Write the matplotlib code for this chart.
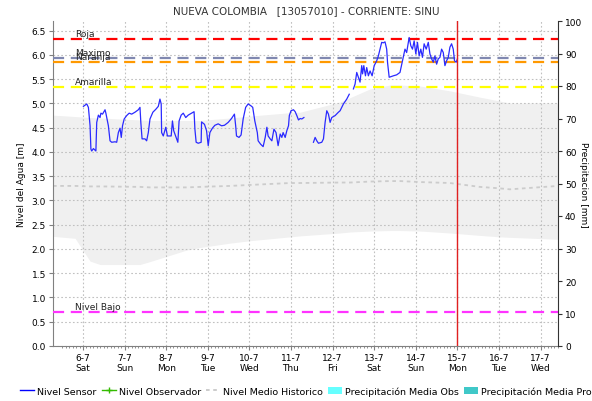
import numpy as np
import matplotlib
matplotlib.use("Agg")
import matplotlib.pyplot as plt
from matplotlib.lines import Line2D
from matplotlib.patches import Patch

# Datos: dias de julio (fraccion de dia) y nivel [m]
sensor_dia = [6.01, 6.09, 6.13, 6.17, 6.19, 6.21, 6.25, 6.31, 6.33, 6.37, 6.41, 6.43, 6.47, 6.53, 6.55,
              6.61, 6.65, 6.69, 6.77, 6.81, 6.85, 6.89, 6.92, 6.95, 6.99, 7.05, 7.11, 7.17, 7.25, 7.33,
              7.37, 7.39, 7.42, 7.49, 7.53, 7.57, 7.61, 7.68, 7.75, 7.81, 7.85, 7.88, 7.89, 7.93, 7.99,
              8.03, 8.12, 8.15, 8.18, 8.28, 8.31, 8.36, 8.41, 8.47, 8.53, 8.61, 8.67, 8.69, 8.72, 8.77,
              8.84, 8.85, 8.92, 8.97, 9.01, 9.05, 9.11, 9.17, 9.25, 9.33, 9.40, 9.49, 9.57, 9.64, 9.67,
              9.69, 9.75, 9.80, 9.85, 9.91, 9.97, 10.04, 10.08, 10.13, 10.19, 10.21, 10.27, 10.33, 10.38,
              10.42, 10.45, 10.50, 10.54, 10.59, 10.64, 10.69, 10.74, 10.78, 10.81, 10.86, 10.90, 10.94,
              10.96, 11.00, 11.06, 11.10, 11.14, 11.18, 11.22, 11.26, 11.31, 11.42,
              11.54, 11.58, 11.62, 11.66, 11.74, 11.78, 11.82, 11.86, 11.90, 11.94, 11.98, 12.06, 12.14,
              12.18, 12.26, 12.34, 12.40, 12.45,
              12.50, 12.54, 12.58, 12.62, 12.66, 12.70, 12.72, 12.75, 12.79, 12.82, 12.86, 12.90, 12.95,
              13.00, 13.06, 13.10, 13.14, 13.18, 13.22, 13.26, 13.30, 13.32, 13.36, 13.46, 13.54, 13.62,
              13.74, 13.78, 13.84, 13.88, 13.92, 13.96, 14.00, 14.04, 14.08, 14.12, 14.16, 14.20, 14.25,
              14.30, 14.34, 14.38, 14.42, 14.46, 14.50, 14.54, 14.58, 14.62, 14.66, 14.70, 14.74, 14.78,
              14.82, 14.86, 14.90, 14.93, 14.97, 15.00]
sensor_nivel = [4.94, 4.99, 4.92, 4.54, 4.06, 4.02, 4.07, 4.02, 4.61, 4.76, 4.71, 4.80, 4.78, 4.87, 4.80,
                4.54, 4.23, 4.20, 4.21, 4.20, 4.40, 4.49, 4.30, 4.54, 4.68, 4.75, 4.80, 4.78, 4.82, 4.87,
                4.92, 4.61, 4.27, 4.27, 4.23, 4.40, 4.68, 4.82, 4.88, 4.94, 5.09, 4.99, 4.40, 4.33, 4.51,
                4.33, 4.33, 4.64, 4.44, 4.20, 4.64, 4.76, 4.80, 4.71, 4.76, 4.80, 4.83, 4.47, 4.20, 4.18,
                4.20, 4.62, 4.57, 4.44, 4.13, 4.40, 4.49, 4.55, 4.58, 4.54, 4.55, 4.61, 4.69, 4.78, 4.54,
                4.33, 4.30, 4.35, 4.68, 4.92, 4.99, 4.95, 4.92, 4.64, 4.40, 4.23, 4.16, 4.11, 4.30,
                4.51, 4.33, 4.27, 4.23, 4.47, 4.40, 4.13, 4.37, 4.30, 4.40, 4.30, 4.44, 4.54,
                4.75, 4.85, 4.87, 4.83, 4.75, 4.66, 4.69, 4.68, 4.71, np.nan,
                4.20, 4.30, 4.23, 4.18, 4.20, 4.27, 4.61, 4.85, 4.78, 4.61, 4.71, 4.75, 4.82,
                4.85, 4.99, 5.09, 5.19, np.nan,
                5.30, 5.40, 5.64, 5.54, 5.44, 5.78, 5.61, 5.78, 5.57, 5.74, 5.57, 5.67, 5.57,
                5.78, 5.88, 5.98, 6.12, 6.26, 6.25, 6.27, 6.12, 5.85, 5.54, 5.57, 5.59, 5.64,
                6.12, 6.05, 6.36, 6.19, 6.12, 6.29, 6.02, 6.26, 5.98, 6.12, 5.95, 6.23, 6.12,
                6.26, 6.02, 5.92, 5.85, 5.98, 5.81, 5.92, 5.95, 6.12, 6.05, 5.78, 5.88, 5.95,
                6.16, 6.23, 6.12, 5.88, 5.85, 5.92]

# Banda historica (min-max) y nivel medio historico
hist_dia = [5.28, 5.81, 6.17, 6.41, 7.37, 7.61, 8.50, 8.81, 9.53, 10.01, 10.98, 11.22, 12.18, 12.42,
            12.90, 13.38, 13.62, 14.10, 14.82, 15.54, 16.02, 16.26, 17.42]
hist_max = [4.76, 4.73, 4.71, 4.70, 4.66, 4.65, 4.65, 4.65, 4.70, 4.74, 4.81, 4.82, 5.03, 5.12,
            5.30, 5.38, 5.38, 5.36, 5.26, 5.13, 5.05, 5.01, 5.01]
hist_min = [2.26, 2.22, 1.75, 1.68, 1.68, 1.74, 1.98, 2.03, 2.12, 2.17, 2.25, 2.27, 2.33, 2.35,
            2.37, 2.38, 2.38, 2.37, 2.33, 2.28, 2.25, 2.24, 2.20]
hist_medio = [3.30, 3.30, 3.29, 3.29, 3.28, 3.27, 3.27, 3.28, 3.30, 3.32, 3.36, 3.36, 3.37, 3.37,
              3.39, 3.40, 3.40, 3.38, 3.36, 3.28, 3.25, 3.23, 3.30]

# Umbrales
umbral_nombres = ["Roja", "Maximo", "Naranja", "Amarilla", "Nivel Bajo"]
umbral_valores = [6.33, 5.94, 5.85, 5.34, 0.71]
umbral_colores = ["#ff0000", "#8088b0", "#ff9900", "#ffff00", "#ff33ff"]

dias = list(range(6, 18))
dias_sem = ["Sat", "Sun", "Mon", "Tue", "Wed", "Thu", "Fri", "Sat", "Sun", "Mon", "Tue", "Wed"]
ahora = 15.0

fig = plt.figure(figsize=(5.92, 4.02), dpi=100)
ax = fig.add_axes([53 / 592, 1 - 347 / 402, 505 / 592, 325 / 402])

ax.fill_between(hist_dia, hist_min, hist_max, color="#f0f0f0", lw=0, zorder=1)
ax.plot(hist_dia, hist_medio, color="#cccccc", ls=(0, (2, 2)), lw=1.3, zorder=2)

for nom, val, col in zip(umbral_nombres, umbral_valores, umbral_colores):
    ax.axhline(val, color=col, ls=(0, (5, 3)), lw=1.6, zorder=3)
    ax.text(5.81, val + 0.02, nom, fontsize=6.5, color="#222222", va="bottom", zorder=4)

ax.plot(sensor_dia, sensor_nivel, color="#2a2aff", lw=0.9, zorder=5)
ax.axvline(ahora, color="#e02020", lw=1.0, zorder=6)

ax.set_xlim(5.279, 17.418)
ax.set_ylim(0, 6.7)
ax.set_yticks(np.arange(0, 6.51, 0.5))
ax.set_yticklabels([f"{v:.1f}" for v in np.arange(0, 6.51, 0.5)])
ax.set_xticks(dias)
ax.set_xticklabels([f"{d}-7\n{s}" for d, s in zip(dias, dias_sem)])
ax.set_xticks(np.arange(5.5, 17.42, 1 / 12), minor=True)
ax.grid(True, color="#c0c0c0", ls=(0, (1.5, 2)), lw=0.8, zorder=0)
ax.tick_params(axis="both", labelsize=6.5, length=3, color="#808080", pad=2)
ax.tick_params(axis="x", which="minor", length=1.5, color="#808080")
ax.set_ylabel("Nivel del Agua [m]", fontsize=6.5, labelpad=4)
for s in ["top", "right"]:
    ax.spines[s].set_visible(False)
ax.spines["left"].set_color("#808080")
ax.spines["bottom"].set_color("#808080")

ax2 = ax.twinx()
ax2.set_ylim(0, 100)
ax2.set_yticks(range(0, 101, 10))
ax2.tick_params(axis="y", labelsize=6.5, length=3, color="#333333", pad=2)
ax2.set_ylabel("Precipitacion [mm]", fontsize=6.5, rotation=270, labelpad=4, va="top")
for s in ["top", "left", "bottom"]:
    ax2.spines[s].set_visible(False)
ax2.spines["right"].set_color("#333333")

fig.text(306 / 592, 1 - 11 / 402, "NUEVA COLOMBIA   [13057010] - CORRIENTE: SINU",
         ha="center", va="center", fontsize=7.5, color="#333333")

handles = [
    Line2D([], [], color="#0000ff", lw=1),
    Line2D([], [], color="#33bb00", lw=1, marker="+", markersize=4),
    Line2D([], [], color="#c8c8c8", lw=1.3, ls=(0, (2, 2))),
    Patch(facecolor="#66ffff", edgecolor="none"),
    Patch(facecolor="#40c8c8", edgecolor="none"),
]
labels = ["Nivel Sensor", "Nivel Observador", "Nivel Medio Historico",
          "Precipitación Media Obs", "Precipitación Media Pro"]
fig.legend(handles, labels, loc="center left", bbox_to_anchor=(20 / 592, 1 - 392 / 402),
           ncol=5, frameon=False, fontsize=6.8, handlelength=1.5, handletextpad=0.3,
           columnspacing=0.55, borderaxespad=0, borderpad=0, handleheight=0.9)

fig.savefig("out.png", dpi=100)
